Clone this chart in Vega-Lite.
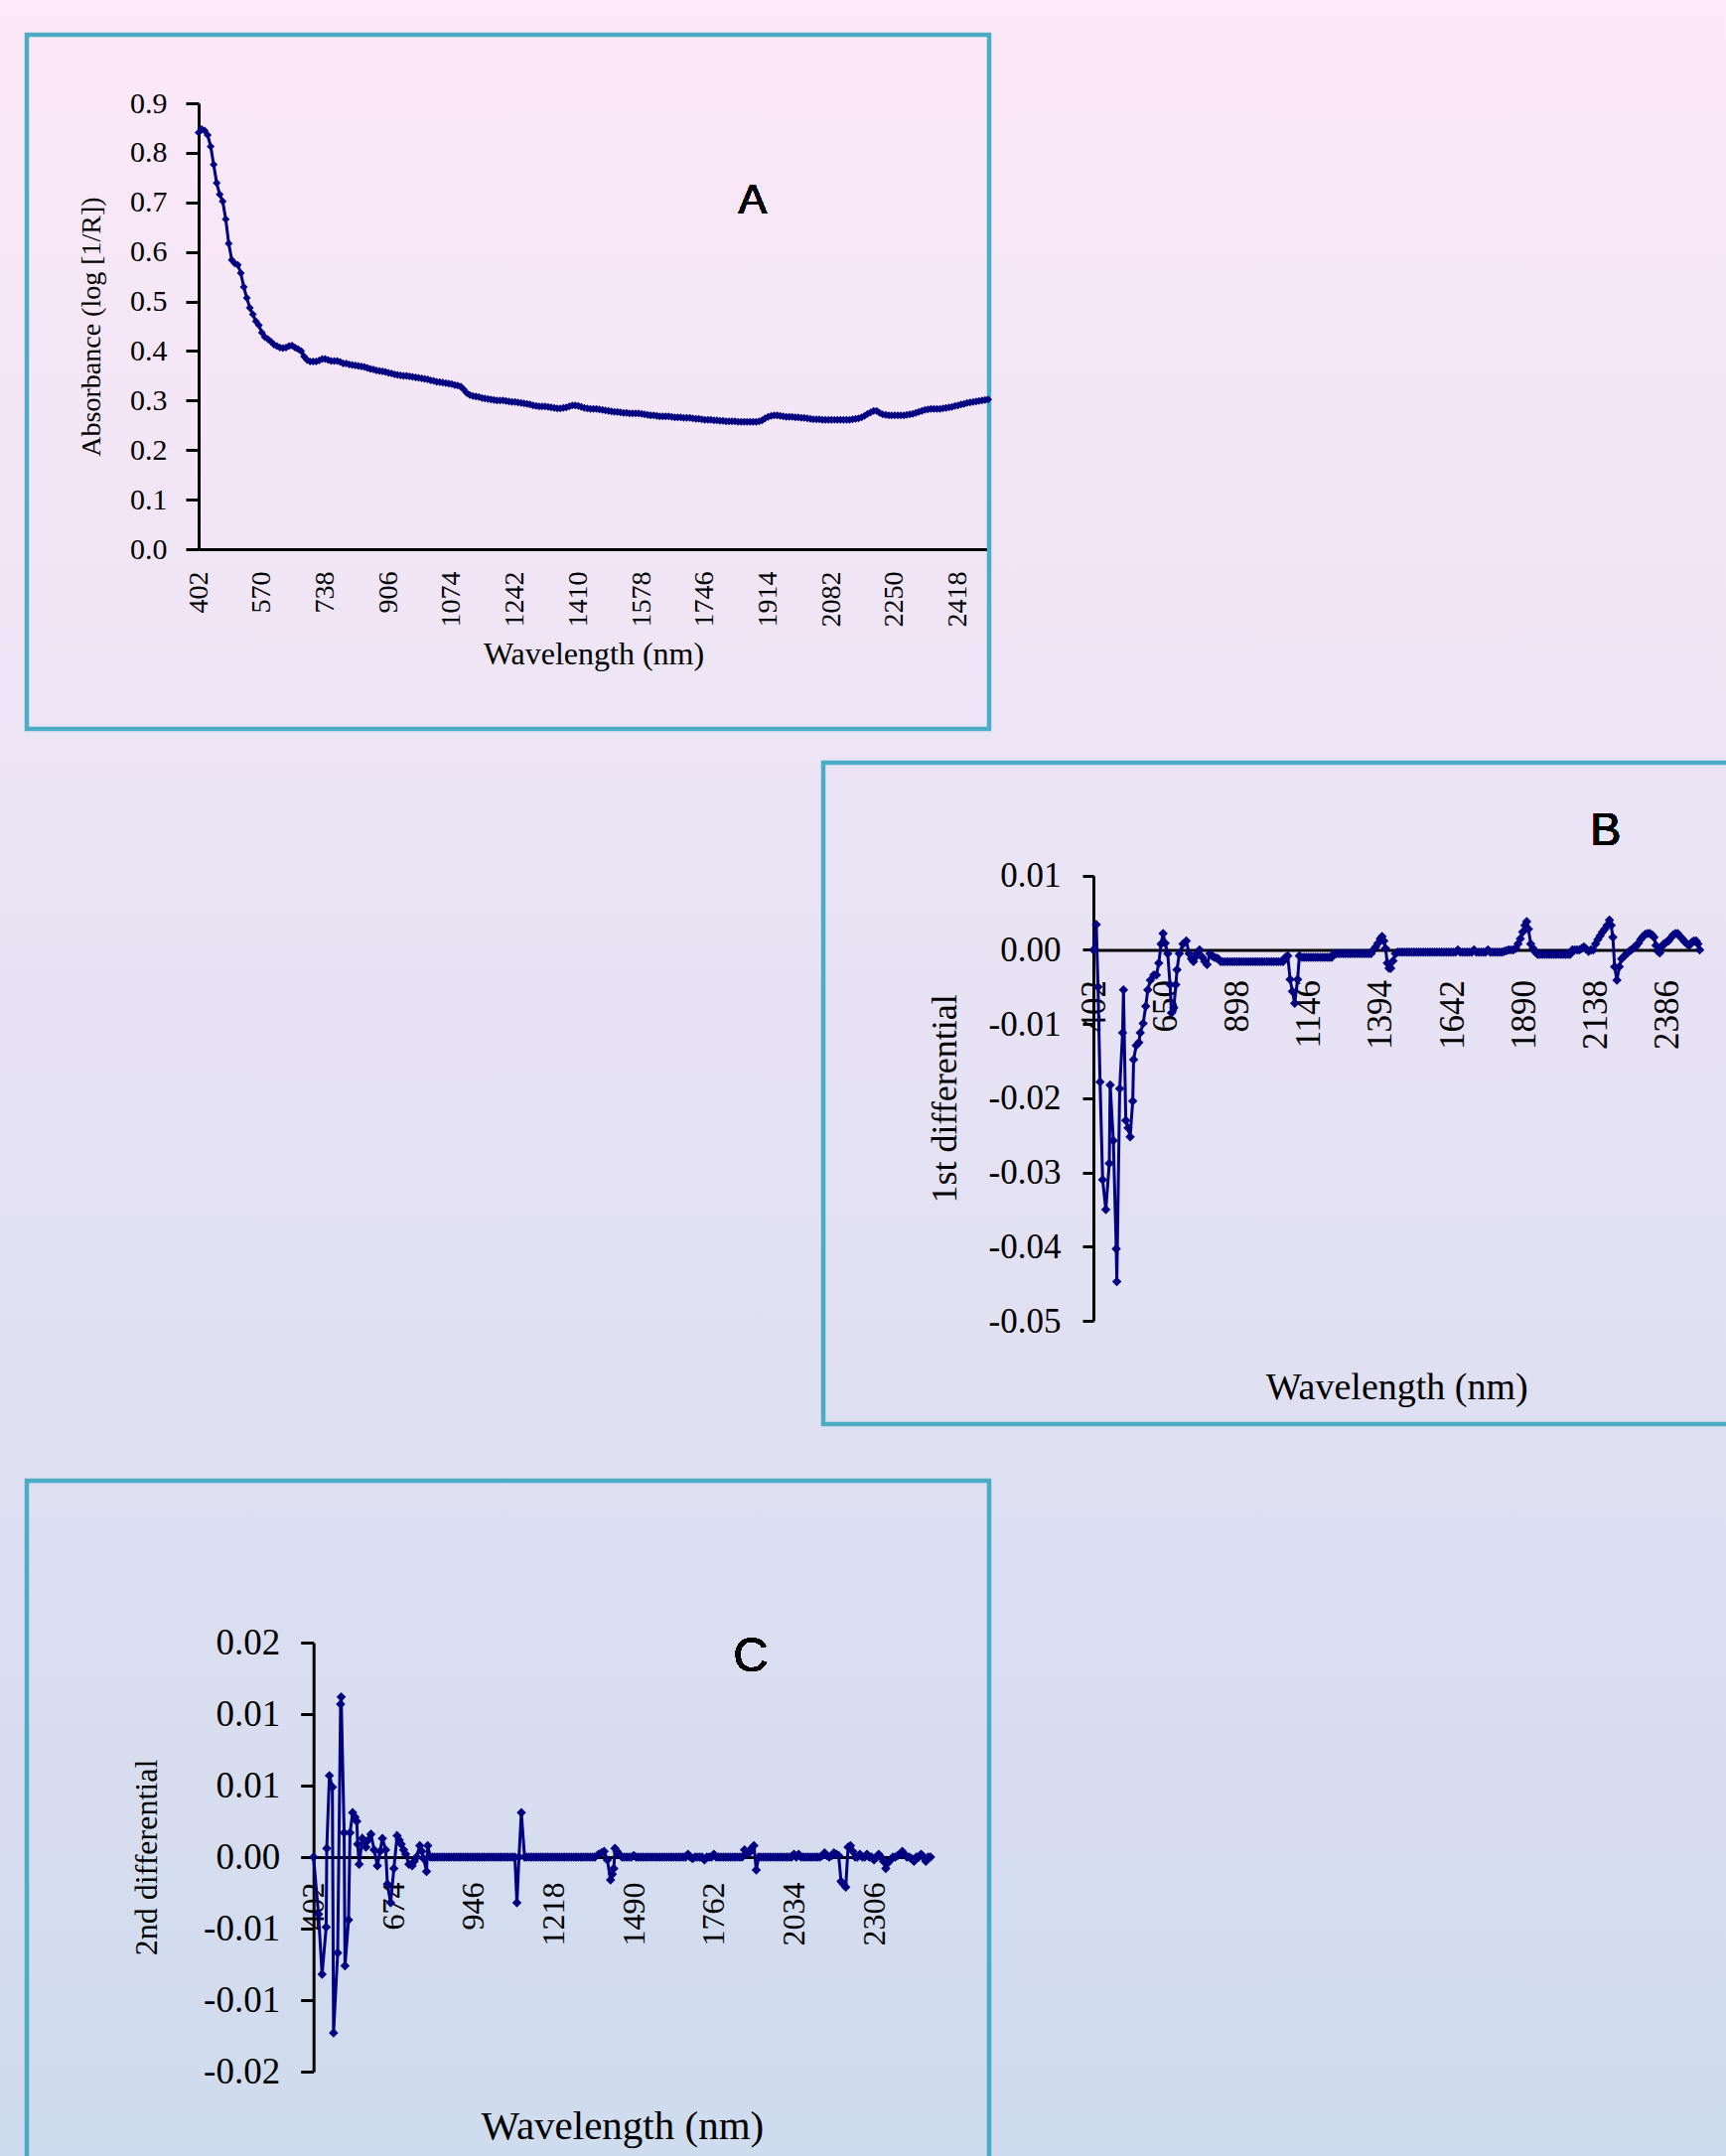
{
"$schema": "https://vega.github.io/schema/vega-lite/v6.json",
"width": 1738, "height": 2171,
"autosize": {"type": "none"},
"padding": 0,
"background": "#e6e2f2",
"config": {
  "view": {"stroke": null, "fill": {"gradient": "linear", "x1": 0, "y1": 0, "x2": 0, "y2": 1, "stops": [{"offset": 0, "color": "#fce9f8"}, {"offset": 1, "color": "#cfdbee"}]}},
  "axis": {"grid": false, "labelFont": "Liberation Serif", "titleFont": "Liberation Serif", "titleFontWeight": "normal", "labelColor": "#000000", "titleColor": "#000000", "domainColor": "#000000", "tickColor": "#000000", "domainWidth": 3, "tickWidth": 3, "labelOverlap": false, "labelFlush": false, "labelBound": false}
},
"datasets": {
"absorbance": [
{"w":402,"v":0.841},{"w":410,"v":0.848},{"w":418,"v":0.845},{"w":426,"v":0.836},{"w":434,"v":0.813},{"w":442,"v":0.776},{"w":450,"v":0.739},{"w":458,"v":0.716},{"w":466,"v":0.702},{"w":474,"v":0.666},{"w":482,"v":0.617},{"w":490,"v":0.584},{"w":498,"v":0.577},{"w":506,"v":0.574},{"w":514,"v":0.557},{"w":522,"v":0.529},{"w":530,"v":0.507},{"w":538,"v":0.487},{"w":546,"v":0.474},{"w":554,"v":0.460},{"w":562,"v":0.452},{"w":570,"v":0.437},{"w":578,"v":0.428},{"w":586,"v":0.424},{"w":594,"v":0.419},{"w":602,"v":0.413},{"w":610,"v":0.410},{"w":618,"v":0.407},{"w":626,"v":0.406},{"w":634,"v":0.407},{"w":642,"v":0.410},{"w":650,"v":0.411},{"w":658,"v":0.407},{"w":666,"v":0.404},{"w":674,"v":0.400},{"w":682,"v":0.389},{"w":690,"v":0.382},{"w":698,"v":0.379},{"w":706,"v":0.379},{"w":714,"v":0.379},{"w":722,"v":0.381},{"w":730,"v":0.384},{"w":738,"v":0.384},{"w":746,"v":0.382},{"w":754,"v":0.380},{"w":762,"v":0.380},{"w":770,"v":0.380},{"w":778,"v":0.378},{"w":786,"v":0.375},{"w":794,"v":0.375},{"w":802,"v":0.373},{"w":810,"v":0.372},{"w":818,"v":0.371},{"w":826,"v":0.370},{"w":834,"v":0.369},{"w":842,"v":0.368},{"w":850,"v":0.366},{"w":858,"v":0.364},{"w":866,"v":0.363},{"w":874,"v":0.361},{"w":882,"v":0.360},{"w":890,"v":0.359},{"w":898,"v":0.358},{"w":906,"v":0.356},{"w":914,"v":0.355},{"w":922,"v":0.353},{"w":930,"v":0.352},{"w":938,"v":0.351},{"w":946,"v":0.350},{"w":954,"v":0.350},{"w":962,"v":0.349},{"w":970,"v":0.348},{"w":978,"v":0.347},{"w":986,"v":0.346},{"w":994,"v":0.345},{"w":1002,"v":0.344},{"w":1010,"v":0.343},{"w":1018,"v":0.341},{"w":1026,"v":0.340},{"w":1034,"v":0.338},{"w":1042,"v":0.337},{"w":1050,"v":0.336},{"w":1058,"v":0.335},{"w":1066,"v":0.334},{"w":1074,"v":0.333},{"w":1082,"v":0.331},{"w":1090,"v":0.330},{"w":1098,"v":0.328},{"w":1106,"v":0.322},{"w":1114,"v":0.315},{"w":1122,"v":0.311},{"w":1130,"v":0.309},{"w":1138,"v":0.308},{"w":1146,"v":0.307},{"w":1154,"v":0.305},{"w":1162,"v":0.304},{"w":1170,"v":0.303},{"w":1178,"v":0.302},{"w":1186,"v":0.301},{"w":1194,"v":0.300},{"w":1202,"v":0.300},{"w":1210,"v":0.300},{"w":1218,"v":0.299},{"w":1226,"v":0.298},{"w":1234,"v":0.297},{"w":1242,"v":0.297},{"w":1250,"v":0.296},{"w":1258,"v":0.295},{"w":1266,"v":0.294},{"w":1274,"v":0.293},{"w":1282,"v":0.292},{"w":1290,"v":0.290},{"w":1298,"v":0.289},{"w":1306,"v":0.288},{"w":1314,"v":0.288},{"w":1322,"v":0.288},{"w":1330,"v":0.287},{"w":1338,"v":0.286},{"w":1346,"v":0.285},{"w":1354,"v":0.284},{"w":1362,"v":0.284},{"w":1370,"v":0.285},{"w":1378,"v":0.286},{"w":1386,"v":0.288},{"w":1394,"v":0.290},{"w":1402,"v":0.290},{"w":1410,"v":0.289},{"w":1418,"v":0.287},{"w":1426,"v":0.285},{"w":1434,"v":0.284},{"w":1442,"v":0.283},{"w":1450,"v":0.283},{"w":1458,"v":0.283},{"w":1466,"v":0.282},{"w":1474,"v":0.281},{"w":1482,"v":0.280},{"w":1490,"v":0.279},{"w":1498,"v":0.278},{"w":1506,"v":0.277},{"w":1514,"v":0.277},{"w":1522,"v":0.276},{"w":1530,"v":0.275},{"w":1538,"v":0.275},{"w":1546,"v":0.274},{"w":1554,"v":0.274},{"w":1562,"v":0.274},{"w":1570,"v":0.274},{"w":1578,"v":0.273},{"w":1586,"v":0.272},{"w":1594,"v":0.271},{"w":1602,"v":0.270},{"w":1610,"v":0.270},{"w":1618,"v":0.269},{"w":1626,"v":0.268},{"w":1634,"v":0.268},{"w":1642,"v":0.268},{"w":1650,"v":0.268},{"w":1658,"v":0.267},{"w":1666,"v":0.266},{"w":1674,"v":0.266},{"w":1682,"v":0.266},{"w":1690,"v":0.265},{"w":1698,"v":0.265},{"w":1706,"v":0.265},{"w":1714,"v":0.264},{"w":1722,"v":0.263},{"w":1730,"v":0.263},{"w":1738,"v":0.262},{"w":1746,"v":0.261},{"w":1754,"v":0.261},{"w":1762,"v":0.261},{"w":1770,"v":0.260},{"w":1778,"v":0.260},{"w":1786,"v":0.259},{"w":1794,"v":0.259},{"w":1802,"v":0.258},{"w":1810,"v":0.258},{"w":1818,"v":0.258},{"w":1826,"v":0.258},{"w":1834,"v":0.257},{"w":1842,"v":0.257},{"w":1850,"v":0.257},{"w":1858,"v":0.257},{"w":1866,"v":0.257},{"w":1874,"v":0.257},{"w":1882,"v":0.257},{"w":1890,"v":0.258},{"w":1898,"v":0.260},{"w":1906,"v":0.264},{"w":1914,"v":0.267},{"w":1922,"v":0.269},{"w":1930,"v":0.270},{"w":1938,"v":0.270},{"w":1946,"v":0.269},{"w":1954,"v":0.268},{"w":1962,"v":0.267},{"w":1970,"v":0.267},{"w":1978,"v":0.267},{"w":1986,"v":0.266},{"w":1994,"v":0.266},{"w":2002,"v":0.265},{"w":2010,"v":0.265},{"w":2018,"v":0.264},{"w":2026,"v":0.263},{"w":2034,"v":0.262},{"w":2042,"v":0.262},{"w":2050,"v":0.262},{"w":2058,"v":0.261},{"w":2066,"v":0.261},{"w":2074,"v":0.261},{"w":2082,"v":0.261},{"w":2090,"v":0.261},{"w":2098,"v":0.261},{"w":2106,"v":0.261},{"w":2114,"v":0.261},{"w":2122,"v":0.261},{"w":2130,"v":0.261},{"w":2138,"v":0.262},{"w":2146,"v":0.263},{"w":2154,"v":0.264},{"w":2162,"v":0.266},{"w":2170,"v":0.269},{"w":2178,"v":0.273},{"w":2186,"v":0.276},{"w":2194,"v":0.279},{"w":2202,"v":0.279},{"w":2210,"v":0.275},{"w":2218,"v":0.272},{"w":2226,"v":0.271},{"w":2234,"v":0.270},{"w":2242,"v":0.270},{"w":2250,"v":0.270},{"w":2258,"v":0.270},{"w":2266,"v":0.270},{"w":2274,"v":0.270},{"w":2282,"v":0.271},{"w":2290,"v":0.272},{"w":2298,"v":0.273},{"w":2306,"v":0.275},{"w":2314,"v":0.277},{"w":2322,"v":0.279},{"w":2330,"v":0.281},{"w":2338,"v":0.282},{"w":2346,"v":0.283},{"w":2354,"v":0.283},{"w":2362,"v":0.283},{"w":2370,"v":0.283},{"w":2378,"v":0.284},{"w":2386,"v":0.285},{"w":2394,"v":0.286},{"w":2402,"v":0.287},{"w":2410,"v":0.289},{"w":2418,"v":0.290},{"w":2426,"v":0.292},{"w":2434,"v":0.293},{"w":2442,"v":0.295},{"w":2450,"v":0.296},{"w":2458,"v":0.297},{"w":2466,"v":0.298},{"w":2474,"v":0.299},{"w":2482,"v":0.300},{"w":2490,"v":0.301},{"w":2498,"v":0.302}
],
"first": [
{"w":402,"v":0},{"w":412,"v":0.0034},{"w":418,"v":-0.005},{"w":425,"v":-0.0178},{"w":434,"v":-0.031},{"w":445,"v":-0.035},{"w":457,"v":-0.0288},{"w":460,"v":-0.0182},{"w":471,"v":-0.0257},{"w":481,"v":-0.0403},{"w":483,"v":-0.0447},{"w":493,"v":-0.0187},{"w":503,"v":-0.0112},{"w":506,"v":-0.0054},{"w":514,"v":-0.023},{"w":522,"v":-0.024},{"w":529,"v":-0.0252},{"w":538,"v":-0.0204},{"w":541,"v":-0.0148},{"w":550,"v":-0.0129},{"w":559,"v":-0.0125},{"w":564,"v":-0.0112},{"w":574,"v":-0.0099},{"w":583,"v":-0.0076},{"w":590,"v":-0.0054},{"w":599,"v":-0.0041},{"w":611,"v":-0.0034},{"w":620,"v":-0.0034},{"w":628,"v":-0.0018},{"w":636,"v":0.0008},{"w":643,"v":0.0022},{"w":650,"v":0.0009},{"w":659,"v":-0.0005},{"w":667,"v":-0.0047},{"w":672,"v":-0.0085},{"w":680,"v":-0.0078},{"w":687,"v":-0.0047},{"w":691,"v":-0.0027},{"w":699,"v":-0.0005},{"w":712,"v":0.0008},{"w":723,"v":0.0012},{"w":733,"v":-0.0005},{"w":741,"v":-0.0012},{"w":748,"v":-0.0016},{"w":754,"v":-0.001},{"w":760,"v":-0.0005},{"w":769,"v":0},{"w":779,"v":-0.001},{"w":787,"v":-0.0016},{"w":795,"v":-0.002},{"w":805,"v":-0.0005},{"w":812,"v":-0.0008},{"w":820,"v":-0.001},{"w":828,"v":-0.0011},{"w":834,"v":-0.0012},
{"w":842,"v":-0.0016},{"w":850,"v":-0.0016},{"w":858,"v":-0.0016},{"w":866,"v":-0.0016},{"w":874,"v":-0.0016},{"w":882,"v":-0.0016},{"w":890,"v":-0.0016},{"w":898,"v":-0.0016},{"w":906,"v":-0.0016},{"w":914,"v":-0.0016},{"w":922,"v":-0.0016},{"w":930,"v":-0.0016},{"w":938,"v":-0.0016},{"w":946,"v":-0.0016},{"w":954,"v":-0.0016},{"w":962,"v":-0.0016},{"w":970,"v":-0.0016},{"w":978,"v":-0.0016},{"w":986,"v":-0.0016},{"w":994,"v":-0.0016},{"w":1002,"v":-0.0016},{"w":1010,"v":-0.0016},{"w":1018,"v":-0.0016},{"w":1026,"v":-0.0016},{"w":1034,"v":-0.0016},{"w":1042,"v":-0.0016},{"w":1050,"v":-0.0016},{"w":1058,"v":-0.0016},{"w":1066,"v":-0.001},{"w":1074,"v":-0.0008},{"w":1082,"v":-0.004},{"w":1090,"v":-0.0056},{"w":1098,"v":-0.0072},{"w":1108,"v":-0.004},{"w":1114,"v":-0.0008},
{"w":1122,"v":-0.001},{"w":1130,"v":-0.001},{"w":1138,"v":-0.001},{"w":1146,"v":-0.001},{"w":1154,"v":-0.001},{"w":1162,"v":-0.001},{"w":1170,"v":-0.001},{"w":1178,"v":-0.001},{"w":1186,"v":-0.001},{"w":1194,"v":-0.001},{"w":1202,"v":-0.001},{"w":1210,"v":-0.001},{"w":1218,"v":-0.001},{"w":1226,"v":-0.001},
{"w":1234,"v":-0.0005},{"w":1242,"v":-0.0005},{"w":1250,"v":-0.0005},{"w":1258,"v":-0.0005},{"w":1266,"v":-0.0005},{"w":1274,"v":-0.0005},{"w":1282,"v":-0.0005},{"w":1290,"v":-0.0005},{"w":1298,"v":-0.0005},{"w":1306,"v":-0.0005},{"w":1314,"v":-0.0005},{"w":1322,"v":-0.0005},{"w":1330,"v":-0.0005},{"w":1338,"v":-0.0005},{"w":1346,"v":-0.0005},{"w":1354,"v":-0.0005},{"w":1362,"v":-0.0005},
{"w":1370,"v":0},{"w":1378,"v":0.0004},{"w":1386,"v":0.0009},{"w":1394,"v":0.0015},{"w":1400,"v":0.0018},{"w":1406,"v":0.0012},{"w":1412,"v":0.0002},{"w":1418,"v":-0.0018},{"w":1424,"v":-0.0025},{"w":1430,"v":-0.0025},{"w":1438,"v":-0.0015},{"w":1446,"v":-0.0005},{"w":1454,"v":-0.0003},
{"w":1462,"v":-0.0003},{"w":1470,"v":-0.0003},{"w":1478,"v":-0.0003},{"w":1486,"v":-0.0003},{"w":1494,"v":-0.0003},{"w":1502,"v":-0.0003},{"w":1510,"v":-0.0003},{"w":1518,"v":-0.0003},{"w":1526,"v":-0.0003},{"w":1534,"v":-0.0003},{"w":1542,"v":-0.0003},{"w":1550,"v":-0.0003},{"w":1558,"v":-0.0003},{"w":1566,"v":-0.0003},{"w":1574,"v":-0.0003},{"w":1582,"v":-0.0003},{"w":1590,"v":-0.0003},{"w":1598,"v":-0.0003},{"w":1606,"v":-0.0003},{"w":1614,"v":-0.0003},{"w":1622,"v":-0.0003},{"w":1630,"v":-0.0003},{"w":1638,"v":-0.0003},{"w":1646,"v":-0.0003},{"w":1654,"v":-0.0003},{"w":1662,"v":0},{"w":1670,"v":-0.0003},{"w":1678,"v":-0.0003},{"w":1686,"v":-0.0003},{"w":1694,"v":-0.0003},{"w":1702,"v":-0.0003},{"w":1710,"v":-0.0003},{"w":1718,"v":0},{"w":1726,"v":-0.0003},{"w":1734,"v":-0.0003},{"w":1742,"v":-0.0003},{"w":1750,"v":-0.0003},{"w":1758,"v":-0.0003},{"w":1766,"v":0},{"w":1774,"v":-0.0003},{"w":1782,"v":-0.0003},{"w":1790,"v":-0.0003},{"w":1798,"v":-0.0003},{"w":1806,"v":-0.0003},{"w":1814,"v":-0.0003},{"w":1822,"v":-0.0002},{"w":1830,"v":-0.0001},{"w":1838,"v":0},{"w":1846,"v":0},{"w":1854,"v":0},
{"w":1862,"v":0.0002},{"w":1870,"v":0.0008},{"w":1878,"v":0.0015},{"w":1886,"v":0.0024},{"w":1894,"v":0.0033},{"w":1900,"v":0.0038},{"w":1906,"v":0.0028},{"w":1914,"v":0.0008},{"w":1922,"v":0.0002},{"w":1930,"v":-0.0003},
{"w":1938,"v":-0.0006},{"w":1946,"v":-0.0006},{"w":1954,"v":-0.0006},{"w":1962,"v":-0.0006},{"w":1970,"v":-0.0006},{"w":1978,"v":-0.0006},{"w":1986,"v":-0.0006},{"w":1994,"v":-0.0006},{"w":2002,"v":-0.0006},{"w":2010,"v":-0.0006},{"w":2018,"v":-0.0006},{"w":2026,"v":-0.0006},{"w":2034,"v":-0.0006},{"w":2042,"v":-0.0006},{"w":2050,"v":-0.0006},
{"w":2058,"v":0},{"w":2066,"v":0},{"w":2074,"v":0},{"w":2082,"v":0},{"w":2090,"v":0.0002},{"w":2098,"v":0.0004},{"w":2106,"v":0.0001},{"w":2114,"v":-0.0002},{"w":2122,"v":0},{"w":2130,"v":0},
{"w":2138,"v":0.0008},{"w":2146,"v":0.0014},{"w":2154,"v":0.0019},{"w":2162,"v":0.0024},{"w":2170,"v":0.0028},{"w":2178,"v":0.0033},{"w":2186,"v":0.004},{"w":2192,"v":0.0033},{"w":2198,"v":0.0017},{"w":2204,"v":-0.0023},{"w":2212,"v":-0.0041},{"w":2220,"v":-0.0023},{"w":2228,"v":-0.0012},{"w":2238,"v":-0.0008},{"w":2246,"v":-0.0005},{"w":2254,"v":-0.0002},{"w":2262,"v":0},{"w":2270,"v":0.0003},{"w":2278,"v":0.0005},{"w":2286,"v":0.0009},{"w":2294,"v":0.0014},{"w":2302,"v":0.0018},{"w":2310,"v":0.0021},{"w":2318,"v":0.0022},{"w":2326,"v":0.0022},{"w":2334,"v":0.002},{"w":2340,"v":0.0017},{"w":2347,"v":0.0006},{"w":2354,"v":-0.0002},{"w":2360,"v":-0.0004},{"w":2366,"v":0.0004},{"w":2374,"v":0.0008},{"w":2382,"v":0.001},{"w":2390,"v":0.0012},{"w":2398,"v":0.0016},{"w":2406,"v":0.002},{"w":2414,"v":0.0022},{"w":2422,"v":0.0022},{"w":2430,"v":0.0018},{"w":2438,"v":0.0015},{"w":2446,"v":0.0011},{"w":2454,"v":0.0008},{"w":2462,"v":0.0006},{"w":2470,"v":0.001},{"w":2478,"v":0.0012},{"w":2486,"v":0.0012},{"w":2492,"v":0.0008},{"w":2498,"v":0}
],
"second": [
{"w":402,"v":0},{"w":419,"v":-0.004},{"w":431,"v":-0.0082},{"w":445,"v":-0.0049},{"w":447,"v":0.0006},{"w":456,"v":0.0057},{"w":466,"v":0.0049},{"w":470,"v":-0.0123},{"w":484,"v":-0.0067},{"w":494,"v":0.0107},{"w":496,"v":0.0112},{"w":506,"v":0.0017},{"w":509,"v":-0.0076},{"w":521,"v":-0.0044},{"w":526,"v":0.0017},{"w":535,"v":0.0031},{"w":543,"v":0.0028},{"w":549,"v":0.0025},{"w":552,"v":0.0009},{"w":557,"v":-0.0005},{"w":568,"v":0.0013},{"w":580,"v":0.0007},{"w":588,"v":0.0012},{"w":597,"v":0.0016},{"w":608,"v":0.0005},{"w":619,"v":-0.0006},{"w":628,"v":0.0004},{"w":636,"v":0.0013},{"w":647,"v":0.0005},{"w":653,"v":-0.0019},{"w":664,"v":-0.0032},{"w":675,"v":-0.0008},{"w":686,"v":0.0015},{"w":693,"v":0.0012},{"w":700,"v":0.0009},{"w":708,"v":0.0005},{"w":715,"v":0.0002},{"w":726,"v":-0.0005},{"w":737,"v":-0.0006},{"w":744,"v":-0.0003},{"w":752,"v":0},{"w":763,"v":0.0008},{"w":770,"v":0.0004},{"w":776,"v":-0.0001},{"w":786,"v":-0.001},{"w":790,"v":0.0008},{"w":799,"v":0},
{"w":806,"v":0},{"w":814,"v":0},{"w":822,"v":0},{"w":830,"v":0},{"w":838,"v":0},{"w":846,"v":0},{"w":854,"v":0},{"w":862,"v":0},{"w":870,"v":0},{"w":878,"v":0},{"w":886,"v":0},{"w":894,"v":0},{"w":902,"v":0},{"w":910,"v":0},{"w":918,"v":0},{"w":926,"v":0},{"w":934,"v":0},{"w":942,"v":0},{"w":950,"v":0},{"w":958,"v":0},{"w":966,"v":0},{"w":974,"v":0},{"w":982,"v":0},{"w":990,"v":0},{"w":998,"v":0},{"w":1006,"v":0},{"w":1014,"v":0},{"w":1022,"v":0},{"w":1030,"v":0},{"w":1038,"v":0},{"w":1046,"v":0},{"w":1054,"v":0},{"w":1062,"v":0},{"w":1070,"v":0},{"w":1078,"v":0},{"w":1086,"v":0},
{"w":1093,"v":-0.0032},{"w":1100,"v":0},{"w":1108,"v":0.0031},{"w":1119,"v":0},
{"w":1126,"v":0},{"w":1134,"v":0},{"w":1142,"v":0},{"w":1150,"v":0},{"w":1158,"v":0},{"w":1166,"v":0},{"w":1174,"v":0},{"w":1182,"v":0},{"w":1190,"v":0},{"w":1198,"v":0},{"w":1206,"v":0},{"w":1214,"v":0},{"w":1222,"v":0},{"w":1230,"v":0},{"w":1238,"v":0},{"w":1246,"v":0},{"w":1254,"v":0},{"w":1262,"v":0},{"w":1270,"v":0},{"w":1278,"v":0},{"w":1286,"v":0},{"w":1294,"v":0},{"w":1302,"v":0},{"w":1310,"v":0},{"w":1318,"v":0},{"w":1326,"v":0},{"w":1334,"v":0},{"w":1342,"v":0},{"w":1350,"v":0},{"w":1358,"v":0},
{"w":1370,"v":0.0002},{"w":1380,"v":0.0003},{"w":1389,"v":0.0004},{"w":1400,"v":-0.0002},{"w":1411,"v":-0.0016},{"w":1417,"v":-0.0012},{"w":1422,"v":-0.0008},{"w":1426,"v":0.0006},{"w":1433,"v":0.0004},{"w":1440,"v":0.0002},{"w":1450,"v":0},
{"w":1458,"v":0},{"w":1466,"v":0},{"w":1474,"v":0},{"w":1482,"v":0},{"w":1490,"v":0.0001},{"w":1498,"v":0},{"w":1506,"v":0},{"w":1514,"v":0},{"w":1522,"v":0},{"w":1530,"v":0},{"w":1538,"v":0},{"w":1546,"v":0},{"w":1554,"v":0},{"w":1562,"v":0},{"w":1570,"v":0},{"w":1578,"v":0},{"w":1586,"v":0},{"w":1594,"v":0},{"w":1602,"v":0},{"w":1610,"v":0},{"w":1618,"v":0},{"w":1626,"v":0},{"w":1634,"v":0},{"w":1642,"v":0},{"w":1650,"v":0},{"w":1658,"v":0},{"w":1666,"v":0},{"w":1674,"v":0.0002},{"w":1682,"v":0},{"w":1690,"v":-0.0001},{"w":1698,"v":0},{"w":1706,"v":0},{"w":1714,"v":0},{"w":1722,"v":0},{"w":1730,"v":-0.0002},{"w":1738,"v":0},{"w":1746,"v":0},{"w":1754,"v":0},{"w":1762,"v":0.0002},{"w":1770,"v":0},{"w":1778,"v":0},{"w":1786,"v":0},{"w":1794,"v":0},{"w":1802,"v":0},{"w":1810,"v":0},{"w":1818,"v":0},{"w":1826,"v":0},{"w":1834,"v":0},{"w":1842,"v":0},{"w":1850,"v":0},{"w":1858,"v":0},{"w":1866,"v":0.0005},{"w":1874,"v":0.0003},{"w":1882,"v":0.0003},{"w":1890,"v":0.0006},{"w":1898,"v":0.0008},{"w":1906,"v":-0.0009},{"w":1914,"v":0},{"w":1922,"v":0},{"w":1930,"v":0},{"w":1938,"v":0},{"w":1946,"v":0},{"w":1954,"v":0},{"w":1962,"v":0},{"w":1970,"v":0},{"w":1978,"v":0},{"w":1986,"v":0},{"w":1994,"v":0},{"w":2002,"v":0},{"w":2010,"v":0},{"w":2018,"v":0},{"w":2026,"v":0},{"w":2034,"v":0.0002},{"w":2042,"v":0},{"w":2050,"v":0.0002},{"w":2058,"v":0},{"w":2066,"v":0},{"w":2074,"v":0},{"w":2082,"v":0},{"w":2090,"v":0},{"w":2098,"v":0},{"w":2106,"v":0},{"w":2114,"v":0},{"w":2122,"v":0},{"w":2130,"v":0.0001},{"w":2138,"v":0.0003},{"w":2146,"v":0.0001},{"w":2154,"v":0},{"w":2162,"v":0.0001},{"w":2170,"v":0.0003},{"w":2178,"v":0.0002},{"w":2186,"v":0.0001},{"w":2194,"v":-0.0017},{"w":2202,"v":-0.0019},{"w":2210,"v":-0.0021},{"w":2218,"v":0.0007},{"w":2226,"v":0.0008},{"w":2234,"v":0.0004},{"w":2242,"v":0},{"w":2250,"v":0},{"w":2258,"v":0.0002},{"w":2266,"v":0},{"w":2274,"v":0},{"w":2282,"v":0.0002},{"w":2290,"v":0},{"w":2298,"v":0},{"w":2306,"v":-0.0002},{"w":2314,"v":0},{"w":2322,"v":0.0002},{"w":2330,"v":0},{"w":2338,"v":-0.0003},{"w":2346,"v":-0.0008},{"w":2354,"v":-0.0004},{"w":2362,"v":-0.0002},{"w":2370,"v":0},{"w":2378,"v":0},{"w":2386,"v":0.0001},{"w":2394,"v":0.0002},{"w":2402,"v":0.0004},{"w":2410,"v":0.0002},{"w":2418,"v":0},{"w":2426,"v":0},{"w":2434,"v":-0.0001},{"w":2442,"v":-0.0003},{"w":2450,"v":0},{"w":2458,"v":0},{"w":2466,"v":0.0002},{"w":2474,"v":0},{"w":2482,"v":-0.0003},{"w":2490,"v":0},{"w":2498,"v":0}
]
},
"layer": [
{
 "data": {"values": [{}]},
 "mark": {"type": "rect", "fillOpacity": 0, "stroke": "#4bacc6", "strokeWidth": 4.5},
 "encoding": {
  "x": {"datum": 0, "type": "quantitative", "scale": {"domain": [0, 1], "range": [27, 996], "nice": false, "zero": false}, "axis": null},
  "x2": {"datum": 1},
  "y": {"datum": 0, "type": "quantitative", "scale": {"domain": [0, 1], "range": [35, 734], "nice": false, "zero": false}, "axis": null},
  "y2": {"datum": 1}
 }
},
{
 "data": {"values": [{}]},
 "mark": {"type": "rect", "fillOpacity": 0, "stroke": "#4bacc6", "strokeWidth": 4.5},
 "encoding": {
  "x": {"datum": 0, "type": "quantitative", "scale": {"domain": [0, 1], "range": [829, 1770], "nice": false, "zero": false}, "axis": null},
  "x2": {"datum": 1},
  "y": {"datum": 0, "type": "quantitative", "scale": {"domain": [0, 1], "range": [768, 1434], "nice": false, "zero": false}, "axis": null},
  "y2": {"datum": 1}
 }
},
{
 "data": {"values": [{}]},
 "mark": {"type": "rect", "fillOpacity": 0, "stroke": "#4bacc6", "strokeWidth": 4.5},
 "encoding": {
  "x": {"datum": 0, "type": "quantitative", "scale": {"domain": [0, 1], "range": [27, 996], "nice": false, "zero": false}, "axis": null},
  "x2": {"datum": 1},
  "y": {"datum": 0, "type": "quantitative", "scale": {"domain": [0, 1], "range": [1491, 2200], "nice": false, "zero": false}, "axis": null},
  "y2": {"datum": 1}
 }
},
{
 "data": {"name": "absorbance"},
 "layer": [
  {
   "mark": {"type": "line", "color": "#000080", "strokeWidth": 3, "point": {"shape": "diamond", "size": 64, "filled": true, "color": "#000080"}},
   "encoding": {
    "x": {"field": "w", "type": "quantitative", "scale": {"domain": [402, 2498], "range": [200, 995], "nice": false, "zero": false},
     "axis": {"orient": "bottom", "offset": -1618, "values": [402, 570, 738, 906, 1074, 1242, 1410, 1578, 1746, 1914, 2082, 2250, 2418], "format": "d", "labelAngle": 270, "ticks": false, "tickSize": 0, "labelPadding": 22, "labelFontSize": 28, "title": "Wavelength (nm)", "titleFontSize": 32, "titleY": 115, "titleBaseline": "alphabetic"}},
    "y": {"field": "v", "type": "quantitative", "scale": {"domain": [0, 0.9], "range": [553, 104], "nice": false, "zero": false},
     "axis": {"orient": "left", "offset": -200, "values": [0, 0.1, 0.2, 0.3, 0.4, 0.5, 0.6, 0.7, 0.8, 0.9], "format": ".1f", "tickSize": 13, "labelPadding": 19, "labelFontSize": 30, "title": "Absorbance (log [1/R])", "titleFontSize": 28, "titleX": -100, "titleAngle": 270, "titleBaseline": "alphabetic", "titleAlign": "center"}}
   }
  },
  {
   "mark": {"type": "text", "text": "A", "font": "Liberation Sans", "fontSize": 43, "align": "center", "baseline": "middle", "color": "#000000"},
   "encoding": {"x": {"datum": 1873, "type": "quantitative"}, "y": {"datum": 0.7035, "type": "quantitative"}}
  }
 ]
},
{
 "data": {"name": "first"},
 "layer": [
  {
   "mark": {"type": "line", "color": "#000080", "strokeWidth": 3, "point": {"shape": "diamond", "size": 90, "filled": true, "color": "#000080"}},
   "encoding": {
    "x": {"field": "w", "type": "quantitative", "scale": {"domain": [402, 2498], "range": [1101, 1711.5], "nice": false, "zero": false},
     "axis": {"orient": "bottom", "offset": -1214.6, "values": [402, 650, 898, 1146, 1394, 1642, 1890, 2138, 2386], "format": "d", "labelAngle": 270, "ticks": false, "tickSize": 0, "labelPadding": 30, "labelFontSize": 35, "title": "Wavelength (nm)", "titleFontSize": 38, "titleY": 452, "titleBaseline": "alphabetic"}},
    "y": {"field": "v", "type": "quantitative", "scale": {"domain": [-0.05, 0.01], "range": [1330, 881.7], "nice": false, "zero": false},
     "axis": {"orient": "left", "offset": -1101, "values": [-0.05, -0.04, -0.03, -0.02, -0.01, 0, 0.01], "labelExpr": "replace(format(datum.value, '.2f'), '\u2212', '-')", "tickSize": 11, "labelPadding": 22, "labelFontSize": 35, "title": "1st differential", "titleFontSize": 36, "titleX": -139, "titleAngle": 270, "titleBaseline": "alphabetic", "titleAlign": "center"}}
   }
  },
  {
   "mark": {"type": "text", "text": "B", "font": "Liberation Sans", "fontSize": 46, "align": "center", "baseline": "middle", "color": "#000000"},
   "encoding": {"x": {"datum": 2173, "type": "quantitative"}, "y": {"datum": 0.016, "type": "quantitative"}}
  }
 ]
},
{
 "data": {"name": "second"},
 "layer": [
  {
   "mark": {"type": "line", "color": "#000080", "strokeWidth": 3, "point": {"shape": "diamond", "size": 90, "filled": true, "color": "#000080"}},
   "encoding": {
    "x": {"field": "w", "type": "quantitative", "scale": {"domain": [402, 2498], "range": [315.7, 937], "nice": false, "zero": false},
     "axis": {"orient": "bottom", "offset": -301, "values": [402, 674, 946, 1218, 1490, 1762, 2034, 2306], "format": "d", "labelAngle": 270, "ticks": false, "tickSize": 0, "labelPadding": 25, "labelFontSize": 32, "title": "Wavelength (nm)", "titleFontSize": 41, "titleY": 283, "titleBaseline": "alphabetic"}},
    "y": {"field": "v", "type": "quantitative", "scale": {"domain": [-0.015, 0.015], "range": [2086, 1654], "nice": false, "zero": false},
     "axis": {"orient": "left", "offset": -315.7, "values": [-0.015, -0.01, -0.005, 0, 0.005, 0.01, 0.015], "labelExpr": "datum.value > 0.012 ? '0.02' : datum.value > 0.001 ? '0.01' : datum.value > -0.001 ? '0.00' : datum.value > -0.012 ? '-0.01' : '-0.02'", "tickSize": 13, "labelPadding": 21, "labelFontSize": 37, "title": "2nd differential", "titleFontSize": 32, "titleX": -158, "titleAngle": 270, "titleBaseline": "alphabetic", "titleAlign": "center"}}
   }
  },
  {
   "mark": {"type": "text", "text": "C", "font": "Liberation Sans", "fontSize": 49, "align": "center", "baseline": "middle", "color": "#000000"},
   "encoding": {"x": {"datum": 1887, "type": "quantitative"}, "y": {"datum": 0.01403, "type": "quantitative"}}
  }
 ]
}
],
"resolve": {"scale": {"x": "independent", "y": "independent"}, "axis": {"x": "independent", "y": "independent"}}
}
